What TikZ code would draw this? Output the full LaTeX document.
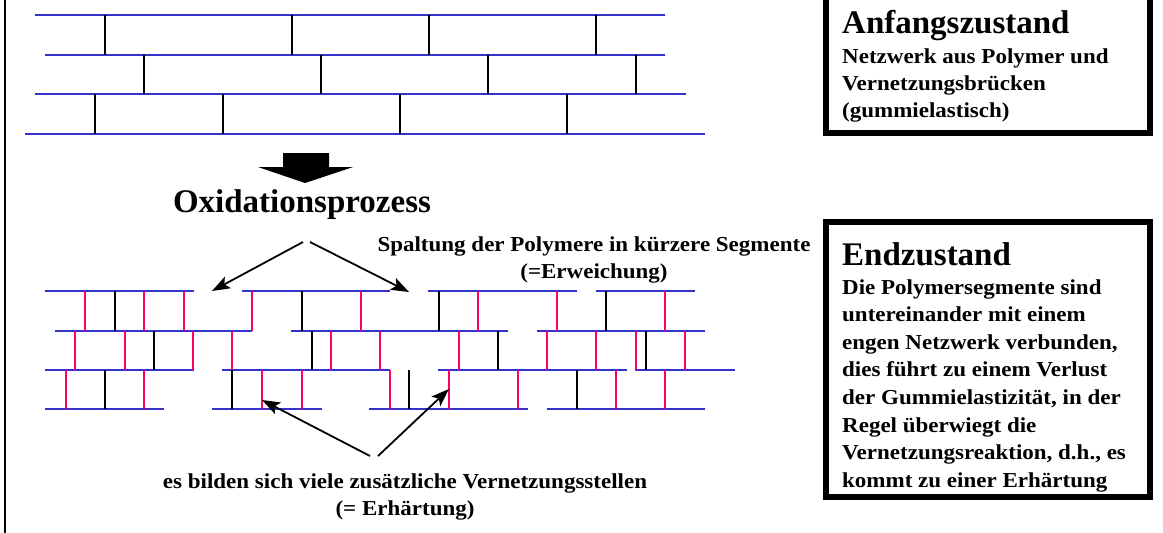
\documentclass[tikz,border=0pt]{standalone}
\usepackage{fontspec}
\setmainfont{Liberation Serif}
\newfontfamily\bodyfont{Liberation Serif}[FakeStretch=1.08]
\usetikzlibrary{arrows.meta}

\definecolor{chain}{RGB}{51,51,204}
\definecolor{newlink}{RGB}{255,0,102}

\tikzset{
  chainline/.style={chain, line width=2.5pt},
  oldlink/.style={black, line width=2.3pt},
  freshlink/.style={newlink, line width=2.4pt},
  pointer/.style={black, line width=1.8pt, -{Stealth[length=18pt,width=13pt,inset=4pt]}},
  titletext/.style={font=\fontsize{33}{36}\selectfont\bfseries, inner sep=0pt},
  bodytext/.style={font=\bodyfont\bfseries\fontsize{21.3}{27}\selectfont, inner sep=0pt},
  statebox/.style={draw=black, line width=6pt},
}

\begin{document}
\begin{tikzpicture}[x=1pt,y=-1pt]
\useasboundingbox (0,0) rectangle (1163,533);
\fill[white] (0,0) rectangle (1163,533);

% frame line on the left
\draw[line width=2.2pt] (5,-5) -- (5,540);

% ---------- initial network: long chains with few bridges ----------
\foreach \y/\a/\b in {15/35/665, 55/45/665, 94/35/686, 134/25/705}
  \draw[chainline] (\a,\y) -- (\b,\y);
\foreach \x in {105,292,429,596} \draw[oldlink] (\x,15) -- (\x,55);
\foreach \x in {144,321,488,636} \draw[oldlink] (\x,55) -- (\x,94);
\foreach \x in {95,223,400,567}  \draw[oldlink] (\x,94) -- (\x,134);

% block arrow
\fill[black] (283,153) -- (329,153) -- (329,167) -- (353,167) -- (305,183)
  -- (258,167) -- (283,167) -- cycle;

\node[titletext, anchor=base] (oxid) at (302,212) {Oxidationsprozess};

% ---------- final network: cut chains, many new bridges ----------
\foreach \a/\b in {45/194, 242/390, 428/577, 596/695}
  \draw[chainline] (\a,291) -- (\b,291);
\foreach \a/\b in {55/252, 291/508, 537/705}
  \draw[chainline] (\a,331) -- (\b,331);
\foreach \a/\b in {45/194, 222/390, 438/627, 635/735}
  \draw[chainline] (\a,370) -- (\b,370);
\foreach \a/\b in {45/164, 212/322, 369/528, 547/705}
  \draw[chainline] (\a,409) -- (\b,409);

\foreach \x in {115,302,439,606} \draw[oldlink] (\x,291) -- (\x,331);
\foreach \x in {85,144,184,252,361,478,557,665} \draw[freshlink] (\x,291) -- (\x,331);

\foreach \x in {154,312,498,646} \draw[oldlink] (\x,331) -- (\x,370);
\foreach \x in {75,125,193,232,331,380,459,547,596,636,685} \draw[freshlink] (\x,331) -- (\x,370);

\foreach \x in {105,232,409,577} \draw[oldlink] (\x,370) -- (\x,409);
\foreach \x in {66,144,262,302,390,449,518,616,665} \draw[freshlink] (\x,370) -- (\x,409);

% ---------- labels ----------
\node[bodytext, anchor=base] (split) at (594,251)
  {\parbox[t]{480pt}{\centering Spaltung der Polymere in kürzere Segmente\\(=Erweichung)}};

\node[bodytext, anchor=base] (link) at (405,488)
  {\parbox[t]{520pt}{\centering es bilden sich viele zusätzliche Vernetzungsstellen\\(= Erhärtung)}};

% pointers
\coordinate (oxL) at (303,242);
\coordinate (oxR) at (310,242);
\coordinate (cutL) at (212,291);
\coordinate (cutR) at (409,292);
\coordinate (linkL) at (370,456);
\coordinate (linkR) at (378,456);
\coordinate (newL) at (262,400);
\coordinate (newR) at (449,389);
\draw[pointer] (oxL) -- (cutL);
\draw[pointer] (oxR) -- (cutR);
\draw[pointer] (linkL) -- (newL);
\draw[pointer] (linkR) -- (newR);

% ---------- state boxes ----------
\draw[statebox] (826,-10) rectangle (1150,133);
\node[titletext, anchor=base west] (initial) at (842,33) {Anfangszustand};
\node[bodytext, anchor=base west] (initialtext) at (842,63)
  {\parbox[t]{300pt}{\raggedright Netzwerk aus Polymer und\\Vernetzungsbrücken\\(gummielastisch)}};

\draw[statebox] (826,222) rectangle (1150,497);
\node[titletext, anchor=base west] (final) at (842,265) {Endzustand};
\node[bodytext, anchor=base west] (finaltext) at (842,294)
  {\parbox[t]{300pt}{\fontsize{21.3}{27.6}\selectfont\raggedright
   Die Polymersegmente sind\\untereinander mit einem\\engen Netzwerk verbunden,\\
   dies führt zu einem Verlust\\der Gummielastizität, in der\\Regel überwiegt die\\
   Vernetzungsreaktion, d.h., es\\kommt zu einer Erhärtung}};
\end{tikzpicture}
\end{document}
